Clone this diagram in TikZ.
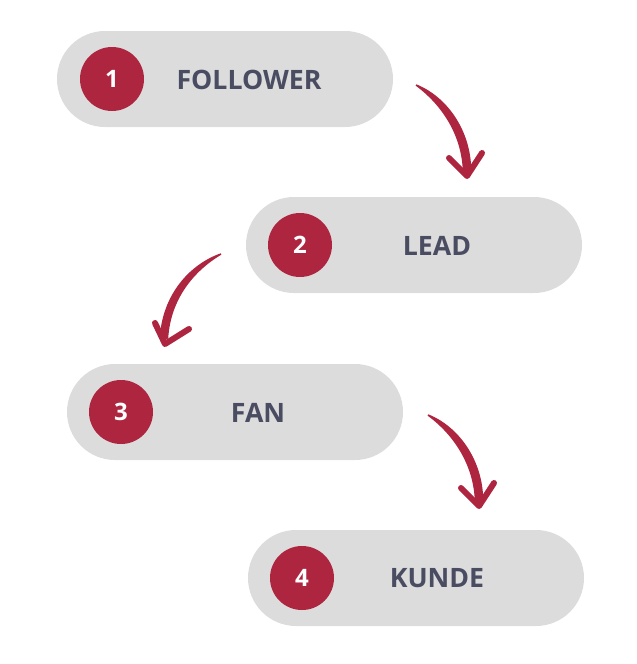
\documentclass[tikz,border=0pt]{standalone}
\usepackage{fontspec}
\setmainfont{Open Sans}
\definecolor{brandred}{HTML}{AE2540}
\definecolor{pillgrey}{HTML}{DCDCDC}
\definecolor{labeltext}{HTML}{4A4D62}
\begin{document}
\begin{tikzpicture}[x=1pt,y=-1pt,
  pill/.style={fill=pillgrey, rounded corners=48pt, minimum width=336pt, minimum height=96pt, inner sep=0pt},
  numdot/.style={circle, fill=brandred, minimum size=64pt, inner sep=0pt, text=white, font=\bfseries\fontsize{24}{26}\selectfont},
  steplabel/.style={text=labeltext, font=\bfseries\fontsize{26.7}{29}\selectfont, inner sep=0pt},
  arrowbody/.style={fill=brandred, draw=brandred, line width=1.5pt, line join=round},
  arrowhead/.style={draw=brandred, line width=6pt, line cap=round, line join=round}]
\useasboundingbox (0,0) rectangle (637,664);
% pills
\node[pill] (p1) at (225,79) {};
\node[pill] (p2) at (414,245) {};
\node[pill] (p3) at (235,412) {};
\node[pill] (p4) at (416,578) {};
% number circles
\node[numdot] (n1) at (112,79) {1};
\node[numdot] (n2) at (300,245) {2};
\node[numdot] (n3) at (121,412) {3};
\node[numdot] (n4) at (302,578) {4};
% labels
\node[steplabel] (l1) at (249,79.5) {FOLLOWER};
\node[steplabel] (l2) at (437,245.5) {LEAD};
\node[steplabel] (l3) at (258,412.5) {FAN};
\node[steplabel] (l4) at (437,578.5) {KUNDE};
% arrow 1
\coordinate (a1s) at (416,85);
\coordinate (a1t) at (467,176);
\fill[arrowbody] (a1s) .. controls (446,97) and (470,130) .. (470.5,170)
   -- (463.5,170) .. controls (462,134) and (442,104) .. (a1s);
\draw[arrowhead] (449,158) -- (a1t) -- (482,153);
% arrow 2
\coordinate (a2s) at (221,254);
\coordinate (a2t) at (165,344);
\fill[arrowbody] (a2s) .. controls (190,265) and (163,295) .. (160.5,338)
   -- (167.5,338) .. controls (170,298) and (194,270) .. (a2s);
\draw[arrowhead] (155,323) -- (a2t) -- (189,329);
% arrow 3
\coordinate (a3s) at (428,415);
\coordinate (a3t) at (479,506);
\fill[arrowbody] (a3s) .. controls (458,427) and (482,460) .. (482.5,500)
   -- (475.5,500) .. controls (474,464) and (454,434) .. (a3s);
\draw[arrowhead] (461,488) -- (a3t) -- (494,483);
\end{tikzpicture}
\end{document}
